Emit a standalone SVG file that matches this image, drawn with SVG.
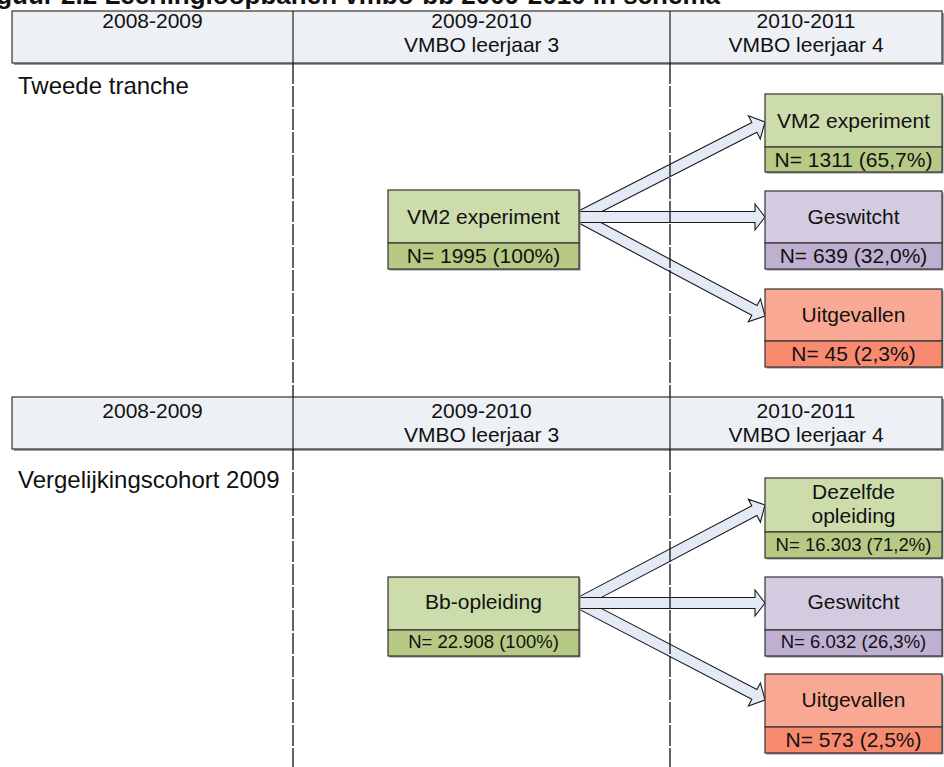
<svg xmlns="http://www.w3.org/2000/svg" width="944" height="767" viewBox="0 0 944 767">
<style>
text{font-family:"Liberation Sans",Arial,sans-serif;fill:#111}
.t{font-size:21px;text-anchor:middle}
.n{font-size:21px;text-anchor:middle}
.ns{font-size:18.5px;text-anchor:middle}
.lbl{font-size:24px}
.title{font-size:26px;font-weight:bold;text-anchor:end}
.hdr{fill:#EDF0F5;stroke:#333;stroke-width:1.2}
.hsh{fill:#9a9a9a}
.div{stroke:#222;stroke-width:1.2}
.dash{stroke:#111;stroke-width:1.3;stroke-dasharray:21 2;fill:none}
.sh{fill:#8d8d8d}
.b{stroke:#333;stroke-width:1.2}
.g1{fill:#CDDCAB}.g2{fill:#B6CA86}
.p1{fill:#D3CCE0}.p2{fill:#BFB0D2}
.r1{fill:#F9A893}.r2{fill:#F88A70}
.arr{fill:#E3EAF5;stroke:#1a1a1a;stroke-width:1.1;stroke-linejoin:miter}
</style>

<text class="title" x="720" y="4">Figuur 2.2 Leerlingloopbanen vmbo-bb 2009-2010 in schema</text>

<g id="header1">
<rect class="hsh" x="14" y="13" width="930" height="52"/>
<rect class="hdr" x="12" y="11" width="930" height="52"/>
<line class="div" x1="293" y1="11" x2="293" y2="63"/>
<line class="div" x1="670" y1="11" x2="670" y2="63"/>
<text class="t" x="152.5" y="28">2008-2009</text>
<text class="t" x="481.5" y="28">2009-2010</text>
<text class="t" x="481.5" y="52">VMBO leerjaar 3</text>
<text class="t" x="806" y="28">2010-2011</text>
<text class="t" x="806" y="52">VMBO leerjaar 4</text>
</g>
<text class="lbl" x="18" y="94">Tweede tranche</text>

<g id="header2">
<rect class="hsh" x="14" y="399" width="930" height="52"/>
<rect class="hdr" x="12" y="397" width="930" height="52"/>
<line class="div" x1="293" y1="397" x2="293" y2="449"/>
<line class="div" x1="670" y1="397" x2="670" y2="449"/>
<text class="t" x="152.5" y="418">2008-2009</text>
<text class="t" x="481.5" y="418">2009-2010</text>
<text class="t" x="481.5" y="442">VMBO leerjaar 3</text>
<text class="t" x="806" y="418">2010-2011</text>
<text class="t" x="806" y="442">VMBO leerjaar 4</text>
</g>
<text class="lbl" x="18" y="488">Vergelijkingscohort 2009</text>

<g id="connectors">
<polygon class="arr" transform="translate(579,217) rotate(-27.06)" points="0,-5.5 196.9,-5.5 196.9,-13 208.9,0 196.9,13 196.9,5.5 0,5.5"/>
<polygon class="arr" transform="translate(579,217) rotate(28.03)" points="0,-5.5 198.7,-5.5 198.7,-13 210.7,0 198.7,13 198.7,5.5 0,5.5"/>
<polygon class="arr" transform="translate(579,217)" points="0,-5.5 176,-5.5 176,-13 186,0 176,13 176,5.5 0,5.5"/>
<polygon class="arr" transform="translate(579,603) rotate(-27.78)" points="0,-5.5 198.2,-5.5 198.2,-13 210.2,0 198.2,13 198.2,5.5 0,5.5"/>
<polygon class="arr" transform="translate(579,603) rotate(27.54)" points="0,-5.5 197.8,-5.5 197.8,-13 209.8,0 197.8,13 197.8,5.5 0,5.5"/>
<polygon class="arr" transform="translate(579,603)" points="0,-5.5 176,-5.5 176,-13 186,0 176,13 176,5.5 0,5.5"/>
</g>

<g id="gridlines">
<line class="dash" x1="293" y1="63" x2="293" y2="397"/>
<line class="dash" x1="670" y1="63" x2="670" y2="397"/>
<line class="dash" x1="293" y1="449" x2="293" y2="767"/>
<line class="dash" x1="670" y1="449" x2="670" y2="767"/>
</g>

<g id="src1">
<rect class="sh" x="389.5" y="191.5" width="191" height="79"/>
<rect class="b g1" x="388" y="190" width="191" height="53"/>
<rect class="b g2" x="388" y="243" width="191" height="26"/>
<text class="t" x="483.5" y="224">VM2 experiment</text>
<text class="n" x="483.5" y="263">N= 1995 (100%)</text>
</g>
<g id="t1">
<rect class="sh" x="766.5" y="95.5" width="177" height="78"/>
<rect class="b g1" x="765" y="94" width="177" height="53"/>
<rect class="b g2" x="765" y="147" width="177" height="25"/>
<text class="t" x="853.5" y="128">VM2 experiment</text>
<text class="n" x="853.5" y="167">N= 1311 (65,7%)</text>
</g>
<g id="t2">
<rect class="sh" x="766.5" y="192.5" width="177" height="78"/>
<rect class="b p1" x="765" y="191" width="177" height="52"/>
<rect class="b p2" x="765" y="243" width="177" height="26"/>
<text class="t" x="853.5" y="224">Geswitcht</text>
<text class="n" x="853.5" y="263">N= 639 (32,0%)</text>
</g>
<g id="t3">
<rect class="sh" x="766.5" y="290.5" width="177" height="78"/>
<rect class="b r1" x="765" y="289" width="177" height="52"/>
<rect class="b r2" x="765" y="341" width="177" height="26"/>
<text class="t" x="853.5" y="322">Uitgevallen</text>
<text class="n" x="853.5" y="361">N= 45 (2,3%)</text>
</g>

<g id="src2">
<rect class="sh" x="389.5" y="578.5" width="191" height="79"/>
<rect class="b g1" x="388" y="577" width="191" height="53"/>
<rect class="b g2" x="388" y="630" width="191" height="26"/>
<text class="t" x="483.5" y="609">Bb-opleiding</text>
<text class="ns" x="483.5" y="648">N= 22.908 (100%)</text>
</g>
<g id="b1">
<rect class="sh" x="766.5" y="479.5" width="177" height="80"/>
<rect class="b g1" x="765" y="478" width="177" height="54"/>
<rect class="b g2" x="765" y="532" width="177" height="26"/>
<text class="t" x="853.5" y="499">Dezelfde</text>
<text class="t" x="853.5" y="523">opleiding</text>
<text class="ns" x="853.5" y="551">N= 16.303 (71,2%)</text>
</g>
<g id="b2">
<rect class="sh" x="766.5" y="578.5" width="177" height="79"/>
<rect class="b p1" x="765" y="577" width="177" height="53"/>
<rect class="b p2" x="765" y="630" width="177" height="26"/>
<text class="t" x="853.5" y="609">Geswitcht</text>
<text class="ns" x="853.5" y="648">N= 6.032 (26,3%)</text>
</g>
<g id="b3">
<rect class="sh" x="766.5" y="675.5" width="177" height="79"/>
<rect class="b r1" x="765" y="674" width="177" height="53"/>
<rect class="b r2" x="765" y="727" width="177" height="26"/>
<text class="t" x="853.5" y="707">Uitgevallen</text>
<text class="n" x="853.5" y="747">N= 573 (2,5%)</text>
</g>
</svg>
